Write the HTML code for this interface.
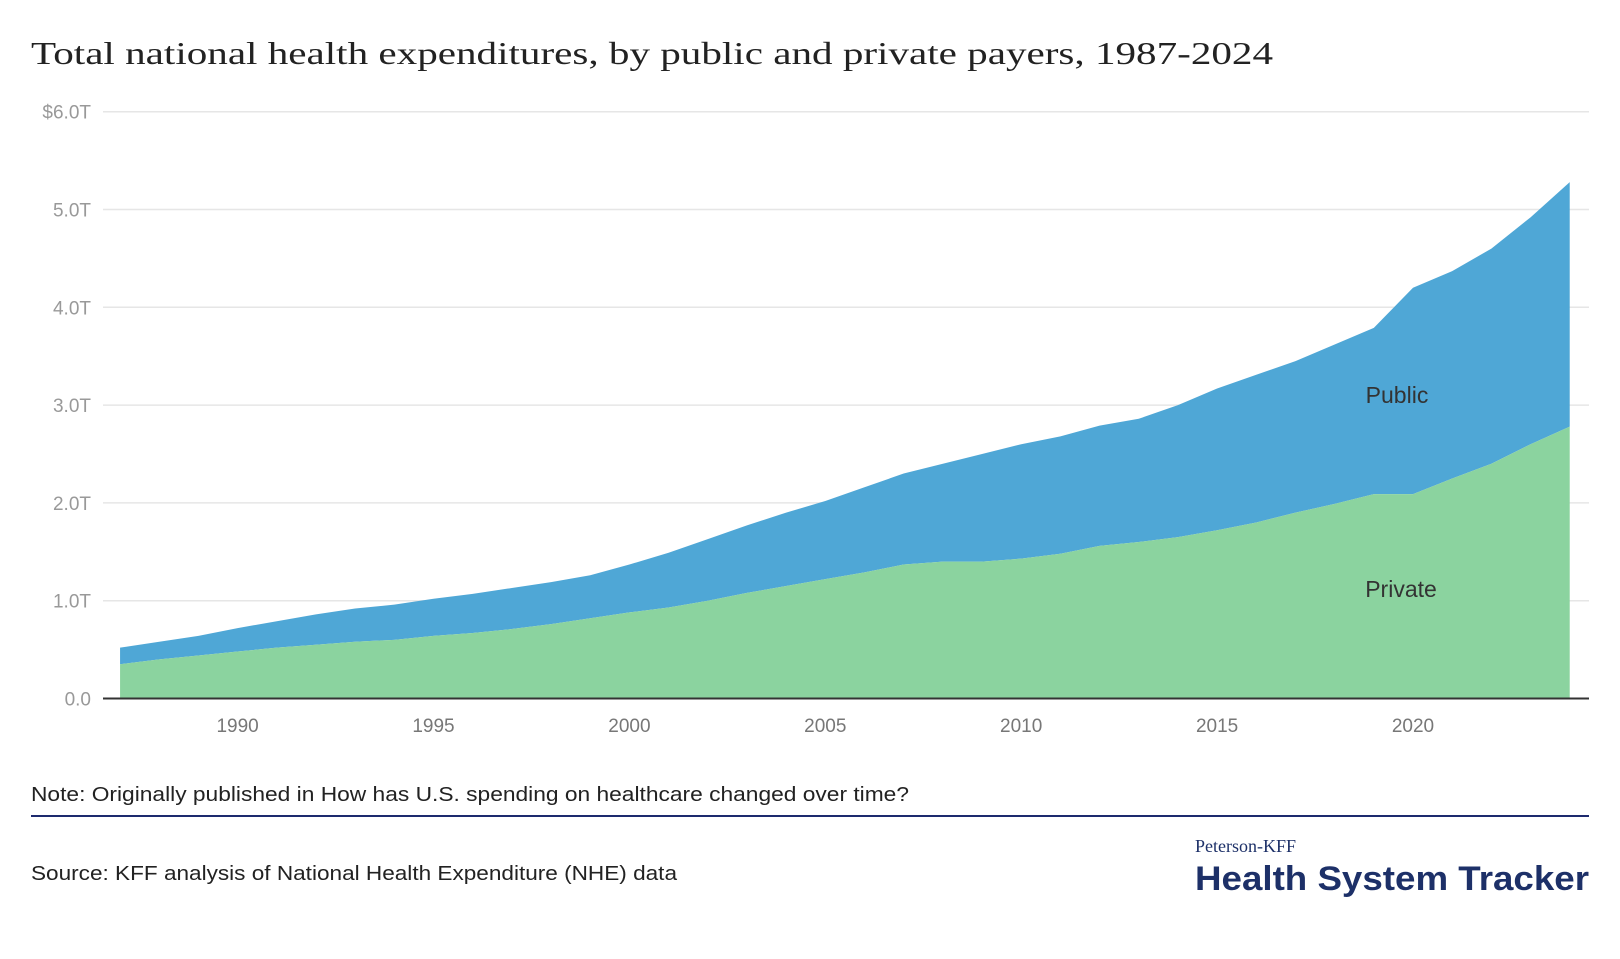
<!DOCTYPE html>
<html><head><meta charset="utf-8"><style>
body{margin:0;background:#fff;width:1620px;height:954px;overflow:hidden;font-family:"Liberation Sans",sans-serif}
</style></head><body>
<svg width="1620" height="954" xmlns="http://www.w3.org/2000/svg">
<text x="31" y="64" font-family="Liberation Serif,serif" font-size="32" fill="#222" textLength="1242" lengthAdjust="spacingAndGlyphs">Total national health expenditures, by public and private payers, 1987-2024</text>
<g id="grid"></g><g id="areas"></g><g id="axes"></g>
<text x="31" y="801" font-size="20" fill="#222" textLength="878" lengthAdjust="spacingAndGlyphs">Note: Originally published in How has U.S. spending on healthcare changed over time?</text>
<line x1="31" y1="816" x2="1589" y2="816" stroke="#1d2a6e" stroke-width="2"/>
<text x="31" y="880" font-size="20" fill="#222" textLength="646" lengthAdjust="spacingAndGlyphs">Source: KFF analysis of National Health Expenditure (NHE) data</text>
<text x="1195" y="852" font-family="Liberation Serif,serif" font-size="18" fill="#1d3068">Peterson-KFF</text>
<text x="1195" y="890" font-size="34" font-weight="bold" fill="#1d3068" textLength="394" lengthAdjust="spacingAndGlyphs">Health System Tracker</text>
</svg>
<script>
const years=[1987,1988,1989,1990,1991,1992,1993,1994,1995,1996,1997,1998,1999,2000,2001,2002,2003,2004,2005,2006,2007,2008,2009,2010,2011,2012,2013,2014,2015,2016,2017,2018,2019,2020,2021,2022,2023,2024];
const privateVals=[.35,.40,.44,.48,.52,.55,.58,.60,.64,.67,.71,.76,.82,.88,.93,1.00,1.08,1.15,1.22,1.29,1.37,1.40,1.40,1.43,1.48,1.56,1.60,1.65,1.72,1.80,1.90,1.99,2.09,2.09,2.25,2.40,2.60,2.78];
const totalVals=[.52,.58,.64,.72,.79,.86,.92,.96,1.02,1.07,1.13,1.19,1.26,1.37,1.49,1.63,1.77,1.90,2.02,2.16,2.30,2.40,2.50,2.60,2.68,2.79,2.86,3.00,3.17,3.31,3.45,3.62,3.79,4.20,4.37,4.60,4.92,5.28];
const yTicks=[0,1,2,3,4,5,6];
const yTickLabels=["0.0","1.0T","2.0T","3.0T","4.0T","5.0T","$6.0T"];
const xTicks=[1990,1995,2000,2005,2010,2015,2020];
const NS="http://www.w3.org/2000/svg";
const X=y=>237.6+(y-1990)*39.18, Y=v=>698.5-v*97.8;
function mk(t,a,p){const e=document.createElementNS(NS,t);for(const k in a)e.setAttribute(k,a[k]);p.appendChild(e);return e;}
const grid=document.getElementById('grid'),areas=document.getElementById('areas'),axes=document.getElementById('axes');
yTicks.forEach((v,i)=>{
 if(v>0){const l=mk('line',{x1:103,x2:1589,y1:Y(v),y2:Y(v),stroke:'#e6e6e6','stroke-width':1.5},grid);
 
 }
 const t=mk('text',{x:91,y:Y(v)+7,'text-anchor':'end','font-size':19,fill:'#999'},axes);t.textContent=yTickLabels[i];
 
 
});
let pub='',prv='';
years.forEach((y,i)=>{pub+=(i?'L':'M')+X(y)+','+Y(totalVals[i]);});
for(let i=years.length-1;i>=0;i--)pub+='L'+X(years[i])+','+Y(privateVals[i]);
years.forEach((y,i)=>{prv+=(i?'L':'M')+X(y)+','+Y(privateVals[i]);});
prv+='L'+X(years[years.length-1])+','+Y(0)+'L'+X(years[0])+','+Y(0)+'Z';
const a1=mk('path',{d:pub+'Z',fill:'#4fa7d6'},areas);


const a2=mk('path',{d:prv,fill:'#8bd39f'},areas);


const bl=mk('line',{x1:103,x2:1589,y1:Y(0),y2:Y(0),stroke:'#333','stroke-width':2},axes);


xTicks.forEach(y=>{const t=mk('text',{x:X(y),y:732,'text-anchor':'middle','font-size':19,fill:'#777'},axes);t.textContent=y;
 
 });
const l1=mk('text',{x:1397,y:403,'text-anchor':'middle','font-size':23,fill:'#333'},axes);l1.textContent='Public';


const l2=mk('text',{x:1401,y:597,'text-anchor':'middle','font-size':23,fill:'#333'},axes);l2.textContent='Private';


</script>
</body></html>
